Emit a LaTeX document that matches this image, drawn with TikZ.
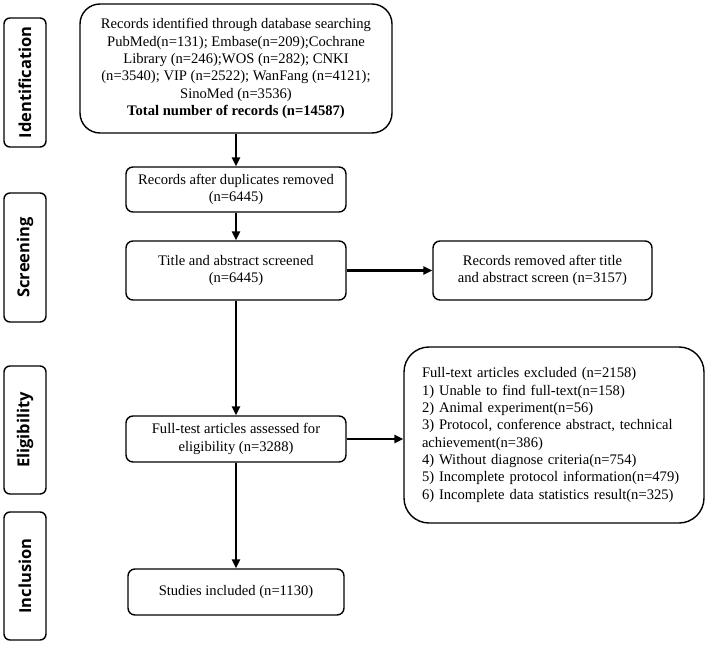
\documentclass[tikz,border=0pt]{standalone}
\usepackage{fontspec}
\setmainfont{Liberation Serif}
\newfontfamily\labelfont{Open Sans}
\usetikzlibrary{arrows.meta}
\begin{document}
\begin{tikzpicture}[x=1bp,y=-1bp,
  box/.style={draw, line width=1.4bp, rounded corners=7bp, align=center, inner sep=0pt,
    font=\fontsize{14.6bp}{17.3bp}\selectfont},
  phase/.style={draw, line width=1.4bp, rounded corners=6bp, rotate=90,
    minimum width=129bp, minimum height=42bp, inner sep=0pt,
    font=\labelfont\bfseries\fontsize{16.5bp}{18bp}\selectfont},
  arr/.style={line width=2.4bp, -{Triangle[length=9bp,width=8bp]}}]
\useasboundingbox (0,0) rectangle (708,646);

% phase labels
\node[phase] (pid) at (25,82.5) {Identification};
\node[phase] (psc) at (25,257.5) {Screening};
\node[phase, minimum width=128bp] (pel) at (25,430) {Eligibility};
\node[phase, minimum width=128bp] (pin) at (25,576) {Inclusion};

% main boxes
\node[box, rounded corners=20bp, minimum width=312bp, minimum height=129bp] (top) at (236,68.5)
  {Records identified through database searching\\
   PubMed(n=131); Embase(n=209);Cochrane\\
   Library (n=246);WOS (n=282); CNKI\\
   (n=3540); VIP (n=2522); WanFang (n=4121);\\
   SinoMed (n=3536)\\
   \textbf{Total number of records (n=14587)}};
\node[box, minimum width=220bp, minimum height=45bp] (dup) at (236,189.5)
  {Records after duplicates removed\\(n=6445)};
\node[box, minimum width=220bp, minimum height=59bp] (tas) at (236,270.5)
  {Title and abstract screened\\(n=6445)};
\node[box, minimum width=219bp, minimum height=59bp] (rem) at (542.5,270.5)
  {Records removed after title\\and abstract screen (n=3157)};
\node[box, minimum width=220bp, minimum height=46bp] (ft) at (236,439)
  {Full-test articles assessed for\\eligibility (n=3288)};
\node[box, rounded corners=25bp, minimum width=300bp, minimum height=176bp,
      align=left, text width=264bp] (exc) at (554,435)
  {Full-text articles excluded (n=2158)\\
   1) Unable to find full-text(n=158)\\
   2) Animal experiment(n=56)\\
   3) Protocol, conference abstract, technical\\
   achievement(n=386)\\
   4) Without diagnose criteria(n=754)\\
   5) Incomplete protocol information(n=479)\\
   6) Incomplete data statistics result(n=325)};
\node[box, minimum width=216bp, minimum height=46bp] (stu) at (236,592)
  {Studies included (n=1130)};

% connectors
\draw[arr] (top) -- (dup);
\draw[arr] (dup) -- (tas);
\draw[arr] (tas) -- (rem);
\draw[arr] (tas) -- (ft);
\draw[arr] (ft.east) -- (ft.east -| exc.west);
\draw[arr] (ft) -- (stu);
\end{tikzpicture}
\end{document}
